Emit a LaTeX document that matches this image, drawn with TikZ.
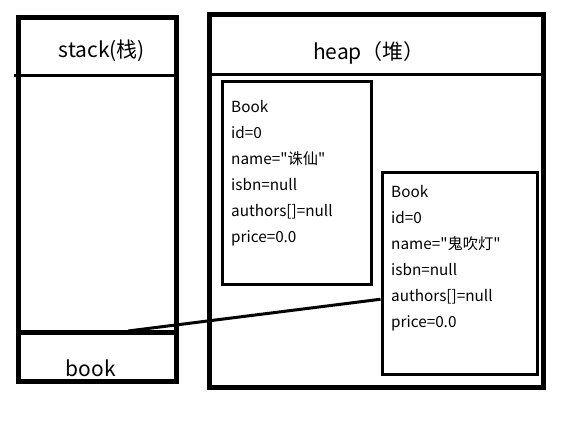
\documentclass[tikz,border=0pt]{standalone}
\usepackage{fontspec}
\setmainfont{Noto Sans CJK SC}[Ligatures=TeXOff]
\usetikzlibrary{positioning,calc}
\tikzset{
	memarea/.style = {
			draw,
			rectangle,
			line width = 5pt,
		},
	objbox/.style = {
			draw,
			rectangle,
			line width = 3pt,
		},
	fields/.style = {
			anchor     = north west,
			align      = left,
			inner sep  = 0pt,
			font       = \fontsize{15.3}{26}\selectfont,
		},
	areatitle/.style = {
			inner sep = 0pt,
			font      = \fontsize{21}{24}\selectfont,
		}
}

\begin{document}
\begin{tikzpicture}[x=1pt, y=-1pt]
	\useasboundingbox (0,0) rectangle (572,422);

	\node[memarea, minimum width=158pt, minimum height=363.5pt] at (97.5,199.75) (stack) {};
	\node[memarea, minimum width=333.5pt, minimum height=373pt] at (376.25,201) (heap) {};

	\draw[line width=3pt] (14,76) -- (177,76);
	\draw[line width=5pt] (16,332.5) -- (179,332.5);
	\draw[line width=3pt] (210,75) -- (543,75);

	\node[areatitle] at (102,51) (stacklabel) {stack(栈)};
	\node[areatitle] at (369,53) (heaplabel) {heap（堆）};
	\node[areatitle] at (91,368) (bookvar) {book};

	\node[objbox, minimum width=148.5pt, minimum height=203pt] at (296.75,183) (book1) {};
	\node[objbox, minimum width=155pt, minimum height=201.5pt] at (459.5,273.25) (book2) {};

	\node[fields] at (231,100.5) (book1fields) {Book\\id=0\\name="诛仙"\\isbn=null\\authors[]=null\\price=0.0};
	\node[fields] at (391,185) (book2fields) {Book\\id=0\\name="鬼吹灯"\\isbn=null\\authors[]=null\\price=0.0};

	\coordinate (bookref) at (128,331);
	\draw[line width=3pt] (bookref) -- ([yshift=-26pt]book2.west);
\end{tikzpicture}
\end{document}
